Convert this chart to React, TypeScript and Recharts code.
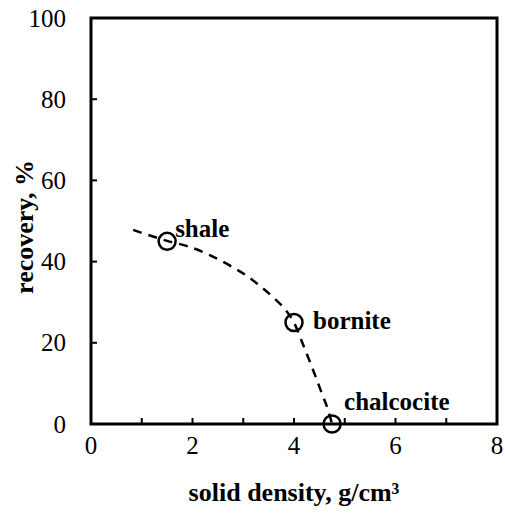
import { ComposedChart, Line, Scatter, XAxis, YAxis, ReferenceArea, LabelList } from 'recharts'

// mineral points
const minerals = ['shale', 'bornite', 'chalcocite']
const density = [1.5, 4.0, 4.75]
const recovery = [45, 25, 0]

// dashed trend curve, traced by eye
const curveX = [0.83, 1.5, 1.95, 2.34, 2.74, 3.07, 3.33, 3.59, 3.82, 4.0, 4.18, 4.37, 4.55, 4.67, 4.75]
const curveY = [47.8, 45.1, 43.6, 41.6, 39.0, 36.5, 34.0, 31.2, 28.3, 25, 19.5, 13.5, 7.5, 3.5, 0]

const xTicks = [0, 1, 2, 3, 4, 5, 6, 7, 8]
const xLabelTicks = [0, 2, 4, 6, 8]
const yTicks = [0, 20, 40, 60, 80, 100]

const points = minerals.map((name, i) => ({ name, x: density[i], y: recovery[i] }))
const curve = curveX.map((x, i) => ({ x, y: curveY[i] }))

const font = 'Liberation Serif'

function XTick({ x, y, payload }: any) {
  return (
    <g>
      <line x1={x} y1={y} x2={x} y2={y - 6} stroke="#000" strokeWidth={2} />
      {xLabelTicks.includes(payload.value) && (
        <text x={x} y={y + 30} textAnchor="middle" fontFamily={font} fontSize={25} fill="#000">
          {payload.value}
        </text>
      )}
    </g>
  )
}

function YTick({ x, y, payload }: any) {
  return (
    <g>
      <line x1={x} y1={y} x2={x + 6} y2={y} stroke="#000" strokeWidth={2} />
      <text x={x - 25} y={y + 8.5} textAnchor="end" fontFamily={font} fontSize={25} fill="#000">
        {payload.value}
      </text>
    </g>
  )
}

function XTitle({ viewBox }: any) {
  const { x, width } = viewBox
  return (
    <text x={x + width / 2} y={501} textAnchor="middle" fontFamily={font} fontWeight="bold" fontSize={26} fill="#000">
      solid density, g/cm³
    </text>
  )
}

function YTitle() {
  return (
    <text
      x={0}
      y={0}
      transform="translate(33 227) rotate(-90)"
      textAnchor="middle"
      fontFamily={font}
      fontWeight="bold"
      fontSize={26}
      fill="#000"
    >
      recovery, %
    </text>
  )
}

function PointLabel({ x, y, width, height, value, index }: any) {
  const cx = x + width / 2
  const cy = y + height / 2
  const dx = [8, 19, 12][index]
  const dy = [-4, 6, -14][index]
  return (
    <text x={cx + dx} y={cy + dy} fontFamily={font} fontWeight="bold" fontSize={25} fill="#000">
      {value}
    </text>
  )
}

export default function App() {
  return (
    <div style={{ position: 'absolute', left: 0, top: 0 }}>
      <ComposedChart width={505} height={514} margin={{ top: 18, right: 8, bottom: 0, left: 0 }}>
        <XAxis
          type="number"
          dataKey="x"
          domain={[0, 8]}
          ticks={xTicks}
          interval={0}
          tickSize={0}
          tickMargin={0}
          axisLine={false}
          tick={<XTick />}
          height={90}
          allowDuplicatedCategory={false}
          label={<XTitle />}
        />
        <YAxis
          type="number"
          dataKey="y"
          domain={[0, 100]}
          ticks={yTicks}
          interval={0}
          tickSize={0}
          tickMargin={0}
          axisLine={false}
          tick={<YTick />}
          width={91}
          label={<YTitle />}
        />
        <ReferenceArea x1={0} x2={8} y1={0} y2={100} fill="none" stroke="#000" strokeWidth={3} />
        <Line
          data={curve}
          dataKey="y"
          type="monotone"
          stroke="#000"
          strokeWidth={2.5}
          strokeDasharray="9 7"
          dot={false}
          activeDot={false}
          isAnimationActive={false}
        />
        <Scatter
          data={points}
          dataKey="y"
          fill="none"
          isAnimationActive={false}
          shape={(p: any) => <circle cx={p.cx} cy={p.cy} r={8.5} fill="none" stroke="#000" strokeWidth={2.5} />}
        >
          <LabelList dataKey="name" content={<PointLabel />} />
        </Scatter>
      </ComposedChart>
    </div>
  )
}
